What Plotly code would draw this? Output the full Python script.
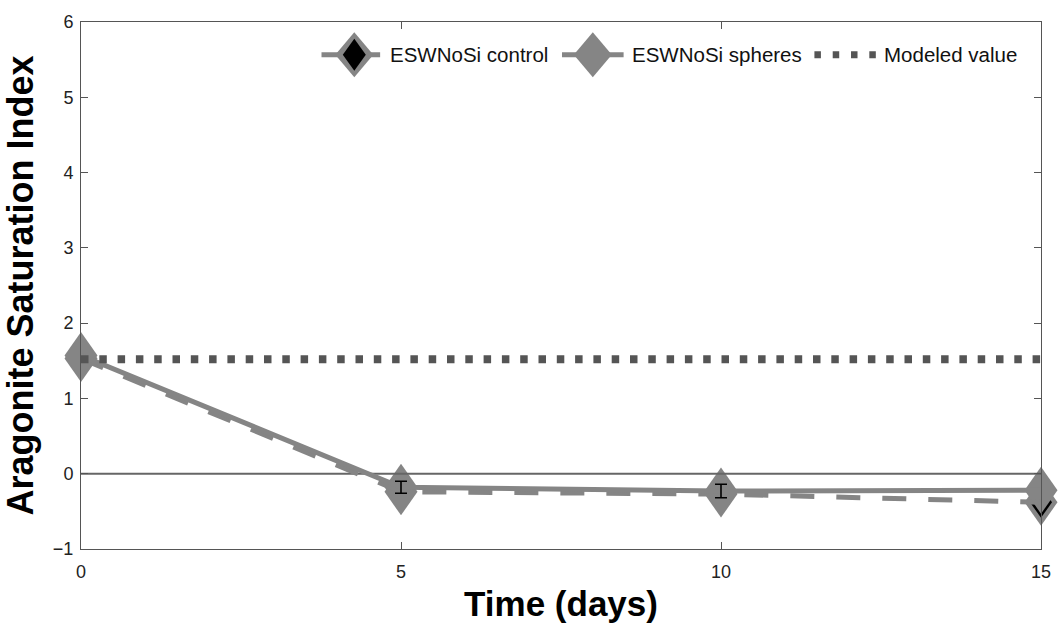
import plotly.graph_objects as go

# ---- data ----
days = [0, 5, 10, 15]
control = [1.53, -0.24, -0.27, -0.38]
spheres = [1.57, -0.18, -0.23, -0.22]
spheres_err = [0.0, 0.08, 0.09, 0.0]
modeled = 1.52
series_names = ["ESWNoSi control", "ESWNoSi spheres", "Modeled value"]
x_ticks = [0, 5, 10, 15]
y_ticks = [-1, 0, 1, 2, 3, 4, 5, 6]
x_range = [0, 15]
y_range = [-1, 6]

GRAY = "#858585"
DARK = "#555555"
FONT = "Liberation Sans, Arial, Helvetica"

# plot area in pixels (for legend placement only)
W, H = 1063, 632
ML, MR, MT, MB = 81, 16, 18, 83
PW, PH = W - ML - MR, H - MT - MB


def px(xp):
    return (xp - ML) / PW


def py(yp):
    return (H - MB - yp) / PH


def diamond_path(hw, hh):
    return f"M0,{hh} L{hw},0 L0,{-hh} L{-hw},0 Z"


fig = go.Figure()

# lines (markers drawn as shapes below)
fig.add_trace(go.Scatter(
    x=days, y=control, mode="lines", name=series_names[0], showlegend=False,
    line=dict(color=GRAY, width=5, dash="24px,22px"),
))
fig.add_trace(go.Scatter(
    x=days, y=spheres, mode="lines", name=series_names[1], showlegend=False,
    line=dict(color=GRAY, width=5),
))
fig.add_trace(go.Scatter(
    x=[x_range[0], x_range[1]], y=[modeled, modeled], mode="lines",
    name=series_names[2], showlegend=False,
    line=dict(color=DARK, width=8, dash="7.5px,10.8px"),
))
ex = [d for d, e in zip(days, spheres_err) if e > 0]
ey = [s for s, e in zip(spheres, spheres_err) if e > 0]
ee = [e for e in spheres_err if e > 0]
fig.add_trace(go.Scatter(
    x=ex, y=ey, mode="markers", showlegend=False, hoverinfo="skip",
    marker=dict(size=1, color="rgba(0,0,0,0)"),
    error_y=dict(type="data", array=ee, visible=True, color="black",
                 thickness=1.6, width=6),
))

shapes = []
span = x_range[1] - x_range[0]
# control diamonds: gray outer + black inner
for d, v in zip(days, control):
    xd = (d - x_range[0]) / span
    shapes.append(dict(type="path", xref="x domain", yref="y", xsizemode="pixel",
                       ysizemode="pixel", xanchor=xd, yanchor=v,
                       path=diamond_path(16.5, 23.5), fillcolor=GRAY,
                       line=dict(width=0), layer="below"))
    shapes.append(dict(type="path", xref="x domain", yref="y", xsizemode="pixel",
                       ysizemode="pixel", xanchor=xd, yanchor=v,
                       path=diamond_path(11, 15.5), fillcolor="black",
                       line=dict(width=0), layer="below"))
# spheres diamonds
for d, v in zip(days, spheres):
    xd = (d - x_range[0]) / span
    shapes.append(dict(type="path", xref="x domain", yref="y", xsizemode="pixel",
                       ysizemode="pixel", xanchor=xd, yanchor=v,
                       path=diamond_path(16.5, 23.5), fillcolor=GRAY,
                       line=dict(width=0), layer="below"))
# zero line
shapes.append(dict(type="line", xref="x domain", yref="y", x0=0, x1=1, y0=0, y1=0,
                   line=dict(color="#666666", width=2), layer="below"))

# ---- custom legend (pixel layout) ----
LY = 51
# control
shapes.append(dict(type="line", xref="paper", yref="paper", x0=px(323), x1=px(382),
                   y0=py(LY), y1=py(LY), line=dict(color=GRAY, width=5)))
for hw, hh, col in [(19, 22.5, GRAY), (11.5, 16, "black")]:
    shapes.append(dict(type="path", xref="paper", yref="paper", xsizemode="pixel",
                       ysizemode="pixel", xanchor=px(356), yanchor=py(LY),
                       path=diamond_path(hw, hh), fillcolor=col, line=dict(width=0)))
# spheres
shapes.append(dict(type="line", xref="paper", yref="paper", x0=px(565), x1=px(627),
                   y0=py(LY), y1=py(LY), line=dict(color=GRAY, width=5)))
shapes.append(dict(type="path", xref="paper", yref="paper", xsizemode="pixel",
                   ysizemode="pixel", xanchor=px(596), yanchor=py(LY),
                   path=diamond_path(19, 22.5), fillcolor=GRAY, line=dict(width=0)))
# modeled
shapes.append(dict(type="line", xref="paper", yref="paper", x0=px(819), x1=px(882),
                   y0=py(LY), y1=py(LY),
                   line=dict(color=DARK, width=7, dash="6.5px,11.8px")))

annotations = []
for name, xp in zip(series_names, [390, 633, 887]):
    annotations.append(dict(text=name, xref="paper", yref="paper", x=px(xp), y=py(LY),
                            xanchor="left", yanchor="middle", showarrow=False,
                            font=dict(family=FONT, size=20.5, color="#111")))

axis_common = dict(
    showline=True, linecolor="#555555", linewidth=1, mirror="ticks",
    ticks="inside", ticklen=7, tickcolor="#555555", showgrid=False,
    zeroline=False, tickfont=dict(family=FONT, size=18, color="#222"),
)

fig.update_layout(
    width=W, height=H,
    margin=dict(l=ML, r=MR, t=MT, b=MB),
    paper_bgcolor="white", plot_bgcolor="white",
    font=dict(family=FONT, color="black"),
    xaxis=dict(range=x_range, tickvals=x_ticks, ticklabelstandoff=6,
               title=dict(text="<b>Time (days)</b>", font=dict(size=35), standoff=10),
               **axis_common),
    yaxis=dict(range=y_range, tickvals=y_ticks, ticklabelstandoff=3,
               title=dict(text="<b>Aragonite Saturation Index</b>", font=dict(size=36), standoff=12),
               **axis_common),
    shapes=shapes,
    annotations=annotations,
    showlegend=False,
)

fig.write_html("out.html")
